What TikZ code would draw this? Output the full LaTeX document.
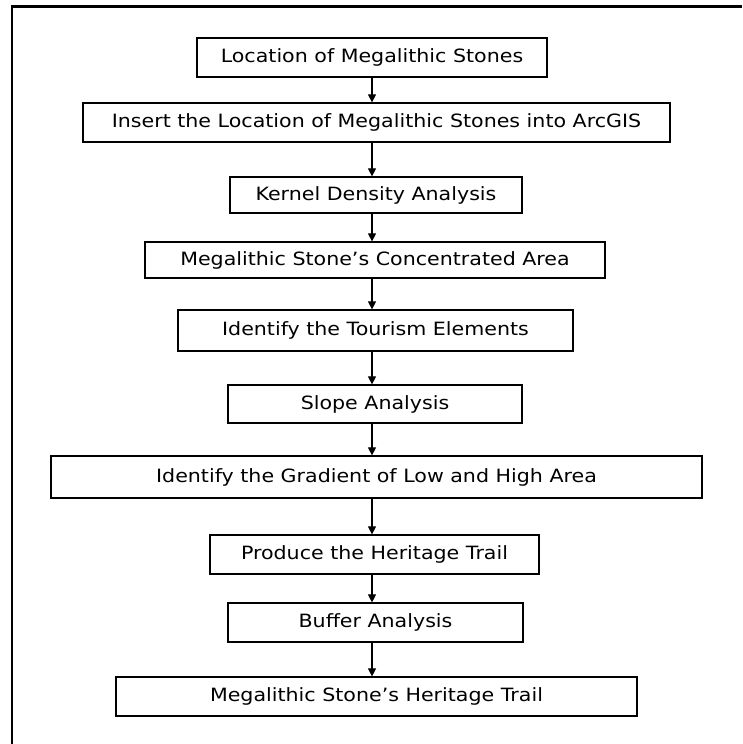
\documentclass[tikz,border=0pt]{standalone}
\usepackage{fontspec}
\setmainfont{DejaVu Sans}[FakeStretch=1.125]
\usetikzlibrary{arrows.meta}
\begin{document}
\begin{tikzpicture}[x=1pt,y=-1pt,
  stepbox/.style={draw=black,line width=1.2pt,inner sep=0pt,font=\fontsize{18.3}{20}\selectfont,anchor=center},
  flow/.style={draw=black,line width=1.1pt,-{Triangle[width=8pt,length=8pt]}}]
\useasboundingbox (0,0) rectangle (742,744);
\fill[white] (0,0) rectangle (742,744);
\draw[line width=2.6pt] (12,744) -- (12,6.5) -- (742,6.5);
\node[stepbox,minimum width=350pt,minimum height=39pt] (b1) at (372,57.5) {Location of Megalithic Stones};
\node[stepbox,minimum width=587pt,minimum height=39pt] (b2) at (376.5,122.5) {Insert the Location of Megalithic Stones into ArcGIS};
\node[stepbox,minimum width=292pt,minimum height=36pt] (b3) at (376,195) {Kernel Density Analysis};
\node[stepbox,minimum width=460pt,minimum height=36pt] (b4) at (375,260) {Megalithic Stone’s Concentrated Area};
\node[stepbox,minimum width=395pt,minimum height=41pt] (b5) at (375.5,330.5) {Identify the Tourism Elements};
\node[stepbox,minimum width=294pt,minimum height=38pt] (b6) at (375,404) {Slope Analysis};
\node[stepbox,minimum width=651pt,minimum height=42pt] (b7) at (376.5,477) {Identify the Gradient of Low and High Area};
\node[stepbox,minimum width=329pt,minimum height=39pt] (b8) at (374.5,554.5) {Produce the Heritage Trail};
\node[stepbox,minimum width=295pt,minimum height=39pt] (b9) at (375.5,622.5) {Buffer Analysis};
\node[stepbox,minimum width=521pt,minimum height=39pt] (b10) at (376.5,696.5) {Megalithic Stone’s Heritage Trail};
\foreach \a/\b in {b1/b2,b2/b3,b3/b4,b4/b5,b5/b6,b6/b7,b7/b8,b8/b9,b9/b10}{
  \draw[flow] (\a.south -| 372,0) -- (\b.north -| 372,0);
}
\end{tikzpicture}
\end{document}
